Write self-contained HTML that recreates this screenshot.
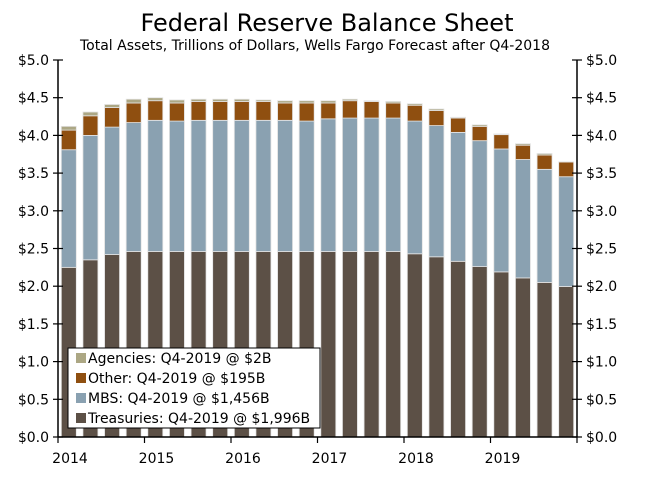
<!DOCTYPE html>
<html><head><meta charset="utf-8"><style>
body{margin:0;background:#fff}
svg{display:block;font-family:"DejaVu Sans","Liberation Sans",sans-serif}
</style></head><body>
<svg id="chart" width="655" height="491" viewBox="0 0 655 491" xmlns="http://www.w3.org/2000/svg">
<rect width="655" height="491" fill="#fff"/>
<text x="327" y="31" font-size="24" text-anchor="middle" fill="#000">Federal Reserve Balance Sheet</text>
<text x="315" y="50" font-size="14" text-anchor="middle" fill="#000">Total Assets, Trillions of Dollars, Wells Fargo Forecast after Q4-2018</text>
<g id="bars"></g>
<g id="axes"></g>
<g>
<rect x="68" y="348" width="252" height="80" fill="#fff" stroke="#000" stroke-width="1"/>
<rect x="76" y="353" width="10" height="10" fill="#aca784"/>
<text x="88" y="363" font-size="14">Agencies: Q4-2019 @ $2B</text>
<rect x="76" y="373" width="10" height="10" fill="#8f4f10"/>
<text x="88" y="383" font-size="14">Other: Q4-2019 @ $195B</text>
<rect x="76" y="393" width="10" height="10" fill="#8aa1b1"/>
<text x="88" y="403" font-size="14">MBS: Q4-2019 @ $1,456B</text>
<rect x="76" y="413" width="10" height="10" fill="#5c5046"/>
<text x="88" y="423" font-size="14">Treasuries: Q4-2019 @ $1,996B</text>
</g>
</svg>
<script>
const quarters = ["Q1-14","Q2-14","Q3-14","Q4-14","Q1-15","Q2-15","Q3-15","Q4-15","Q1-16","Q2-16","Q3-16","Q4-16","Q1-17","Q2-17","Q3-17","Q4-17","Q1-18","Q2-18","Q3-18","Q4-18","Q1-19","Q2-19","Q3-19","Q4-19"];
const treasuries = [2.25,2.35,2.42,2.46,2.46,2.46,2.46,2.46,2.46,2.46,2.46,2.46,2.46,2.46,2.46,2.46,2.43,2.39,2.33,2.26,2.19,2.11,2.05,1.996];
const mbs = [1.56,1.65,1.69,1.71,1.74,1.73,1.74,1.74,1.74,1.74,1.74,1.73,1.76,1.77,1.77,1.77,1.76,1.74,1.71,1.67,1.63,1.57,1.50,1.456];
const other = [0.26,0.26,0.26,0.26,0.26,0.24,0.25,0.25,0.25,0.25,0.23,0.24,0.21,0.23,0.22,0.20,0.21,0.20,0.19,0.19,0.19,0.19,0.19,0.195];
const agencies = [0.05,0.05,0.04,0.05,0.04,0.04,0.03,0.03,0.03,0.02,0.03,0.03,0.03,0.02,0.01,0.02,0.02,0.02,0.01,0.02,0.01,0.02,0.02,0.002];
const yTicks = [0,0.5,1,1.5,2,2.5,3,3.5,4,4.5,5];
const yearLabels = ["2014","2015","2016","2017","2018","2019"];

const NS = "http://www.w3.org/2000/svg";
const X0 = 58, X1 = 577, Y0 = 437, Y1 = 60;
const slot = (X1 - X0) / quarters.length;
function y(v){ return Y0 - v/5*(Y0-Y1); }
function xc(i){ return X0 + (i+0.5)*slot; }
function mk(tag, attrs, parent){ const e=document.createElementNS(NS,tag); for(const k in attrs) e.setAttribute(k,attrs[k]); parent.appendChild(e); return e; }

const bars = document.getElementById('bars');
const series = [[treasuries,"#5c5046","treasuries"],[mbs,"#8aa1b1","mbs"],[other,"#8f4f10","other"],[agencies,"#aca784","agencies"]];
const bw = 15;
quarters.forEach((q,i)=>{
  let base = 0;
  series.forEach(([arr,col,nm])=>{
    const v = arr[i];
    const r = mk('rect',{x:xc(i)-bw/2,y:y(base+v),width:bw,height:y(base)-y(base+v),fill:col,stroke:"#e4e4e4","stroke-width":0.8},bars);
    
    
    base += v;
  });
});

const axes = document.getElementById('axes');
mk('line',{x1:X0,y1:Y1,x2:X0,y2:Y0,stroke:"#000","stroke-width":1.5},axes);
mk('line',{x1:X1,y1:Y1,x2:X1,y2:Y0,stroke:"#000","stroke-width":1.5},axes);
mk('line',{x1:X0,y1:Y0,x2:X1,y2:Y0,stroke:"#000","stroke-width":1.5},axes);
yTicks.forEach(t=>{
  const yy = y(t);
  mk('line',{x1:X0-5,y1:yy,x2:X0+5,y2:yy,stroke:"#000","stroke-width":1.2},axes);
  mk('line',{x1:X1-5,y1:yy,x2:X1+5,y2:yy,stroke:"#000","stroke-width":1.2},axes);
  const l = mk('text',{x:X0-9,y:yy+5,"font-size":14,"text-anchor":"end"},axes);
  l.textContent = "$"+t.toFixed(1);
  
  
  const r = mk('text',{x:X1+9,y:yy+5,"font-size":14,"text-anchor":"start"},axes);
  r.textContent = "$"+t.toFixed(1);
  
  
});
for(let k=0;k<=yearLabels.length;k++){
  const xx = X0 + k*4*slot;
  mk('line',{x1:xx,y1:Y0,x2:xx,y2:Y0+6,stroke:"#000","stroke-width":1.2},axes);
  if(k<yearLabels.length){
    const t = mk('text',{x:xx+12,y:Y0+26,"font-size":14,"text-anchor":"middle"},axes);
    t.textContent = yearLabels[k];
    
    
  }
}
</script>
</body></html>
